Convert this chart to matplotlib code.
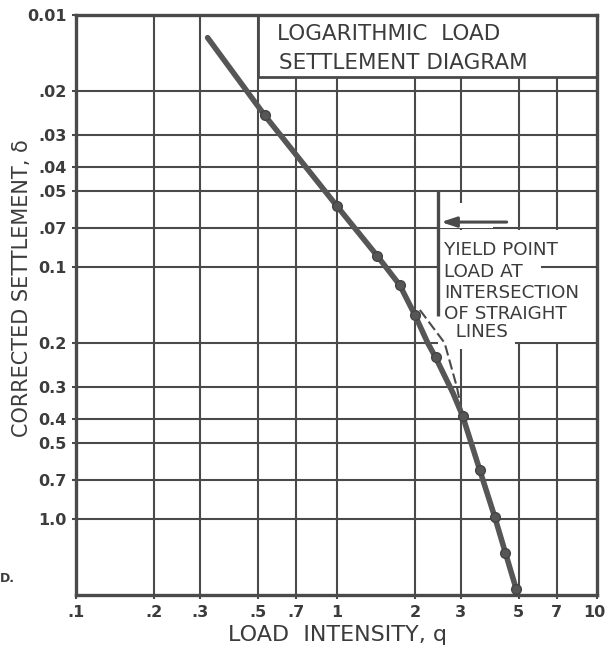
import matplotlib
matplotlib.use("Agg")
import matplotlib.pyplot as plt
import matplotlib.transforms as mtransforms
from matplotlib.patches import Rectangle

# Load test readings: load intensity q and corrected settlement
load_q = [0.32, 0.53, 1.0, 1.43, 1.75, 2.0, 2.24, 2.4, 2.8, 3.05, 3.55, 4.05, 4.45, 4.9]
settle_s = [0.0123, 0.025, 0.057, 0.09, 0.118, 0.155, 0.2, 0.228, 0.316, 0.39,
            0.64, 0.98, 1.36, 1.9]
marked = [False, True, True, True, True, True, False, True, False, True,
          True, True, True, True]

# Straight line of the lower branch, carried up past the break
ext_q = [2.09, 2.6, 2.9, 3.02]
ext_s = [0.148, 0.2, 0.3, 0.37]

# Yield point marker
yield_q = 2.45
yield_s_range = [0.05, 0.156]
arrow_tail = (4.5, 0.0663)
arrow_head = (2.52, 0.0663)

x_ticks = [0.1, 0.2, 0.3, 0.5, 0.7, 1, 2, 3, 5, 7, 10]
x_labels = [".1", ".2", ".3", ".5", ".7", "1", "2", "3", "5", "7", "10"]
y_ticks = [0.01, 0.02, 0.03, 0.04, 0.05, 0.07, 0.1, 0.2, 0.3, 0.4, 0.5, 0.7, 1.0]
y_labels = ["0.01", ".02", ".03", ".04", ".05", ".07", "0.1", "0.2", "0.3",
            "0.4", "0.5", "0.7", "1.0"]

ink = "#4a4a4a"
text_ink = "#3c3c3c"
curve_ink = "#565656"
plt.rcParams["font.family"] = ["DejaVu Sans"]

fig = plt.figure(figsize=(6.06, 6.49), dpi=100)
ax = fig.add_axes([76 / 606, 1 - 595 / 649, 521 / 606, 580 / 649])
ax.set_xscale("log")
ax.set_yscale("log")
ax.set_xlim(0.1, 10)
ax.set_ylim(2.0, 0.01)

ax.set_xticks(x_ticks)
ax.set_xticklabels(x_labels)
ax.set_yticks(y_ticks)
ax.set_yticklabels(y_labels)
ax.minorticks_off()
ax.tick_params(axis="both", length=3, width=1.5, color=ink, labelcolor=text_ink,
               labelsize=11.5, pad=4)
for lab in ax.get_xticklabels() + ax.get_yticklabels():
    lab.set_fontweight("bold")
# keep the last x label inside the figure edge
last = ax.get_xticklabels()[-1]
last.set_transform(last.get_transform() + mtransforms.ScaledTranslation(
    -3 / 100, 0, fig.dpi_scale_trans))

for g in x_ticks[1:-1]:
    ax.axvline(g, color=ink, lw=1.5, zorder=1)
for g in y_ticks[1:]:
    ax.axhline(g, color=ink, lw=1.5, zorder=1)

for sp in ax.spines.values():
    sp.set_linewidth(2.4)
    sp.set_color(ink)
    sp.set_zorder(6)

# Title box in the upper right corner, its left edge on the q = .5 line
blend = mtransforms.blended_transform_factory(ax.transData, ax.transAxes)
tb = Rectangle((0.5, 0.893), 9.5, 0.107, transform=blend,
               facecolor="white", edgecolor=ink, lw=2.0, zorder=4)
ax.add_patch(tb)
ax.text(0.386, 0.968, "LOGARITHMIC  LOAD", transform=ax.transAxes,
        fontsize=15.5, color=text_ink, va="center", ha="left", zorder=5)
ax.text(0.39, 0.918, "SETTLEMENT DIAGRAM", transform=ax.transAxes,
        fontsize=15.5, color=text_ink, va="center", ha="left", zorder=5)

# Cleared areas for the yield-point note and arrow
ax.add_patch(Rectangle((yield_q, 0.0715), 10 - yield_q, 0.1975 - 0.0715,
                       facecolor="white", edgecolor="none", zorder=2))
ax.add_patch(Rectangle((yield_q, 0.19), 4.85 - yield_q, 0.021,
                       facecolor="white", edgecolor="none", zorder=2))
ax.add_patch(Rectangle((yield_q, 0.0555), 4.0 - yield_q, 0.0142,
                       facecolor="white", edgecolor="none", zorder=2))
ax.axhline(0.1, xmin=0.894, xmax=1.0, color=ink, lw=1.5, zorder=3)

note_lines = ["YIELD POINT", "LOAD AT", "INTERSECTION", "OF STRAIGHT", "  LINES"]
note_y = [250, 272, 293.5, 313.5, 332]
for txt, py in zip(note_lines, note_y):
    fig.text(444 / 606, 1 - py / 649, txt, fontsize=13.2, color=text_ink,
             va="center", ha="left", zorder=5)

ax.plot([yield_q, yield_q], yield_s_range, color=ink, lw=2.4, zorder=5,
        solid_capstyle="butt")
ax.annotate("", xy=arrow_head, xytext=arrow_tail,
            arrowprops=dict(arrowstyle="-|>,head_length=0.9,head_width=0.3",
                            color=ink, lw=2.2, shrinkA=0, shrinkB=0), zorder=5)

# Settlement curve and readings
ax.plot(ext_q, ext_s, color=ink, lw=1.5, ls=(0, (5, 2)), zorder=7)
ax.plot(load_q, settle_s, color=curve_ink, lw=4.0, solid_capstyle="round",
        solid_joinstyle="round", zorder=7)
mq = [q for q, m in zip(load_q, marked) if m]
ms = [s for s, m in zip(settle_s, marked) if m]
ax.plot(mq, ms, "o", color=curve_ink, ms=7, mec="#444444", mew=1.0, zorder=8)

fig.text(22 / 606, 1 - 288 / 649, "CORRECTED SETTLEMENT, δ", rotation=90,
         fontsize=15, color=text_ink, ha="center", va="center")
fig.text(337 / 606, 1 - 635 / 649, "LOAD  INTENSITY, q", fontsize=16,
         color=text_ink, ha="center", va="center")
fig.text(0.0, 1 - 578 / 649, "D.", fontsize=9, color=text_ink, ha="left",
         va="center", fontweight="bold")

fig.savefig("out.png", dpi=100, facecolor="white")
